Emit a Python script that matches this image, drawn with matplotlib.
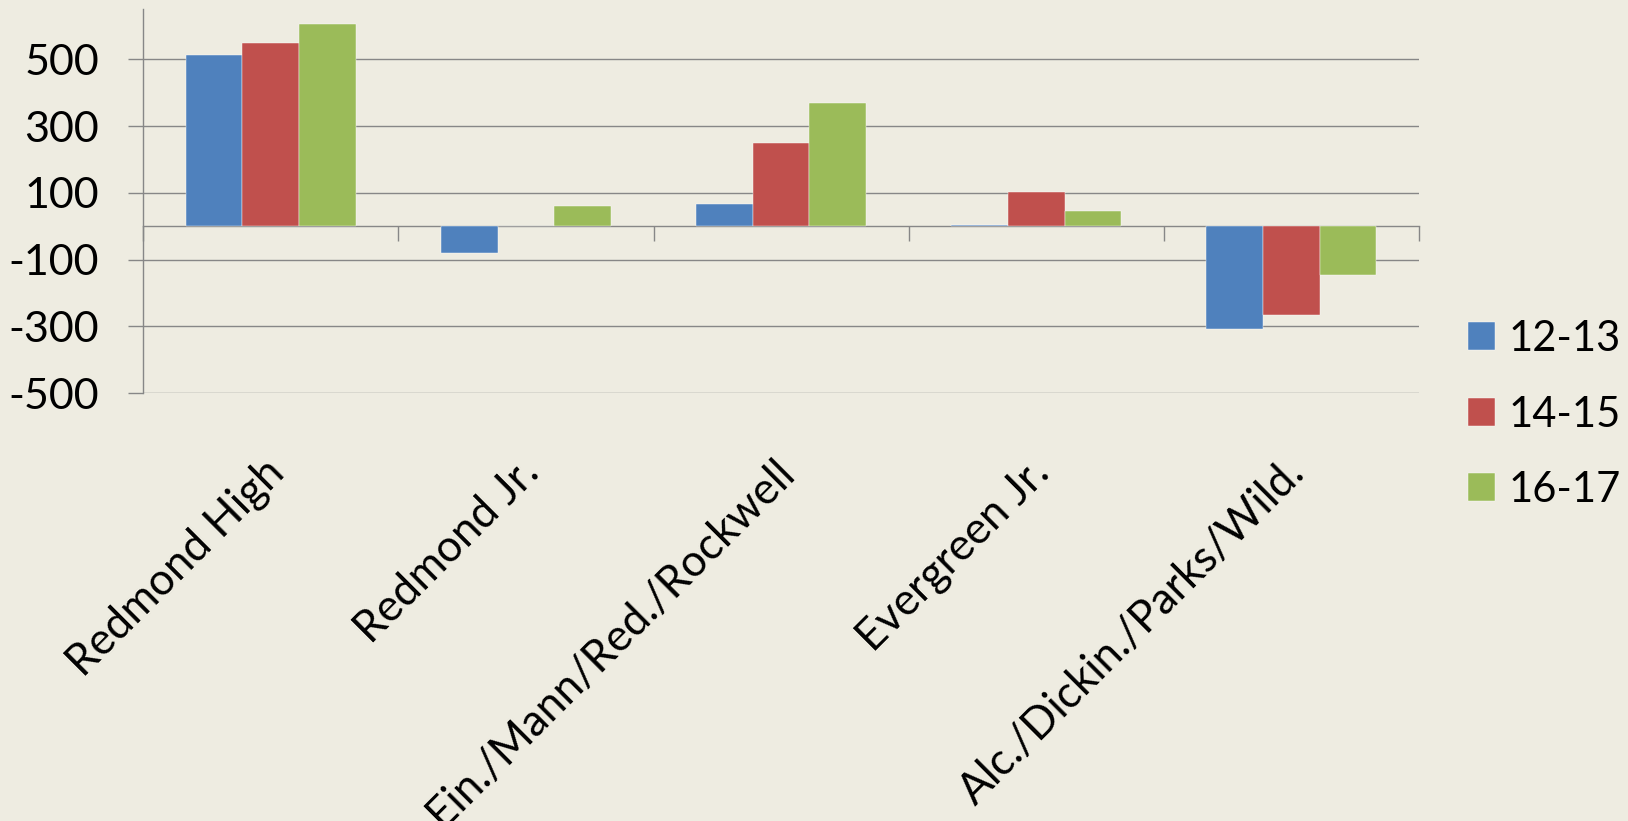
import matplotlib.pyplot as plt
import matplotlib.transforms as mtransforms
import numpy as np

# 字体
plt.rcParams['font.family'] = ['Lato', 'DejaVu Sans']

# 数据
categories = ['Redmond High', 'Redmond Jr.', 'Ein./Mann/Red./Rockwell',
              'Evergreen Jr.', 'Alc./Dickin./Parks/Wild.']
series_names = ['12-13', '14-15', '16-17']
vals_12_13 = [512, -80, 68, 4, -308]
vals_14_15 = [549, 2, 250, 104, -265]
vals_16_17 = [607, 62, 368, 47, -147]
yticks = [-500, -300, -100, 100, 300, 500]

colors = ['#4F81BD', '#C0504D', '#9BBB59']
bg = '#EEECE1'
grid_c = '#878787'

fig = plt.figure(figsize=(16.28, 8.21), dpi=100, facecolor=bg)
ax = fig.add_axes([0.0880, 0.5210, 0.7836, 0.4677], facecolor=bg)

x = np.arange(len(categories))
w = 1 / 4.5
for i, (vals, name) in enumerate(zip([vals_12_13, vals_14_15, vals_16_17], series_names)):
    ax.bar(x + (i - 1) * w, vals, width=w, color=colors[i], label=name,
           edgecolor='white', linewidth=0.3, zorder=2)

ax.set_xlim(-0.5, len(categories) - 0.5)
ax.set_ylim(-500, 650)
ax.set_axisbelow(True)

# y轴
ax.set_yticks(yticks)
ax.set_yticklabels([str(v) for v in yticks])
ax.tick_params(axis='y', direction='out', length=10.8, width=1, color=grid_c,
               pad=21, labelsize=31)
ax.yaxis.grid(True, color=grid_c, linewidth=1)
for s in ['top', 'right', 'bottom']:
    ax.spines[s].set_visible(False)
ax.spines['left'].set_color(grid_c)
ax.spines['left'].set_linewidth(1)

# x轴标签 (在图底部)
ax.set_xticks(x)
ax.set_xticklabels(categories, rotation=45, ha='right', rotation_mode='anchor')
ax.tick_params(axis='x', length=0, pad=42, labelsize=31.5)
offset = mtransforms.ScaledTranslation(-8 / 100, 0, fig.dpi_scale_trans)
for lbl in ax.get_xticklabels():
    lbl.set_transform(lbl.get_transform() + offset)

# 零线和分类刻度
zero_frac = (0 - (-500)) / (650 - (-500))
sec = ax.secondary_xaxis(zero_frac)
sec.set_xticks(np.arange(-0.5, len(categories), 1.0))
sec.set_xticklabels([])
sec.tick_params(direction='out', length=10.8, width=1, color=grid_c)
sec.spines['bottom'].set_color(grid_c)
sec.spines['bottom'].set_linewidth(1)

# 图例
leg = fig.legend(loc='center left', bbox_to_anchor=(1468 / 1628, 1 - 414.5 / 821),
                 frameon=False, fontsize=30, handlelength=0.65, handleheight=0.65,
                 handletextpad=0.33, labelspacing=0.9, borderpad=0, borderaxespad=0)

plt.savefig('out.png', dpi=100, facecolor=bg)
